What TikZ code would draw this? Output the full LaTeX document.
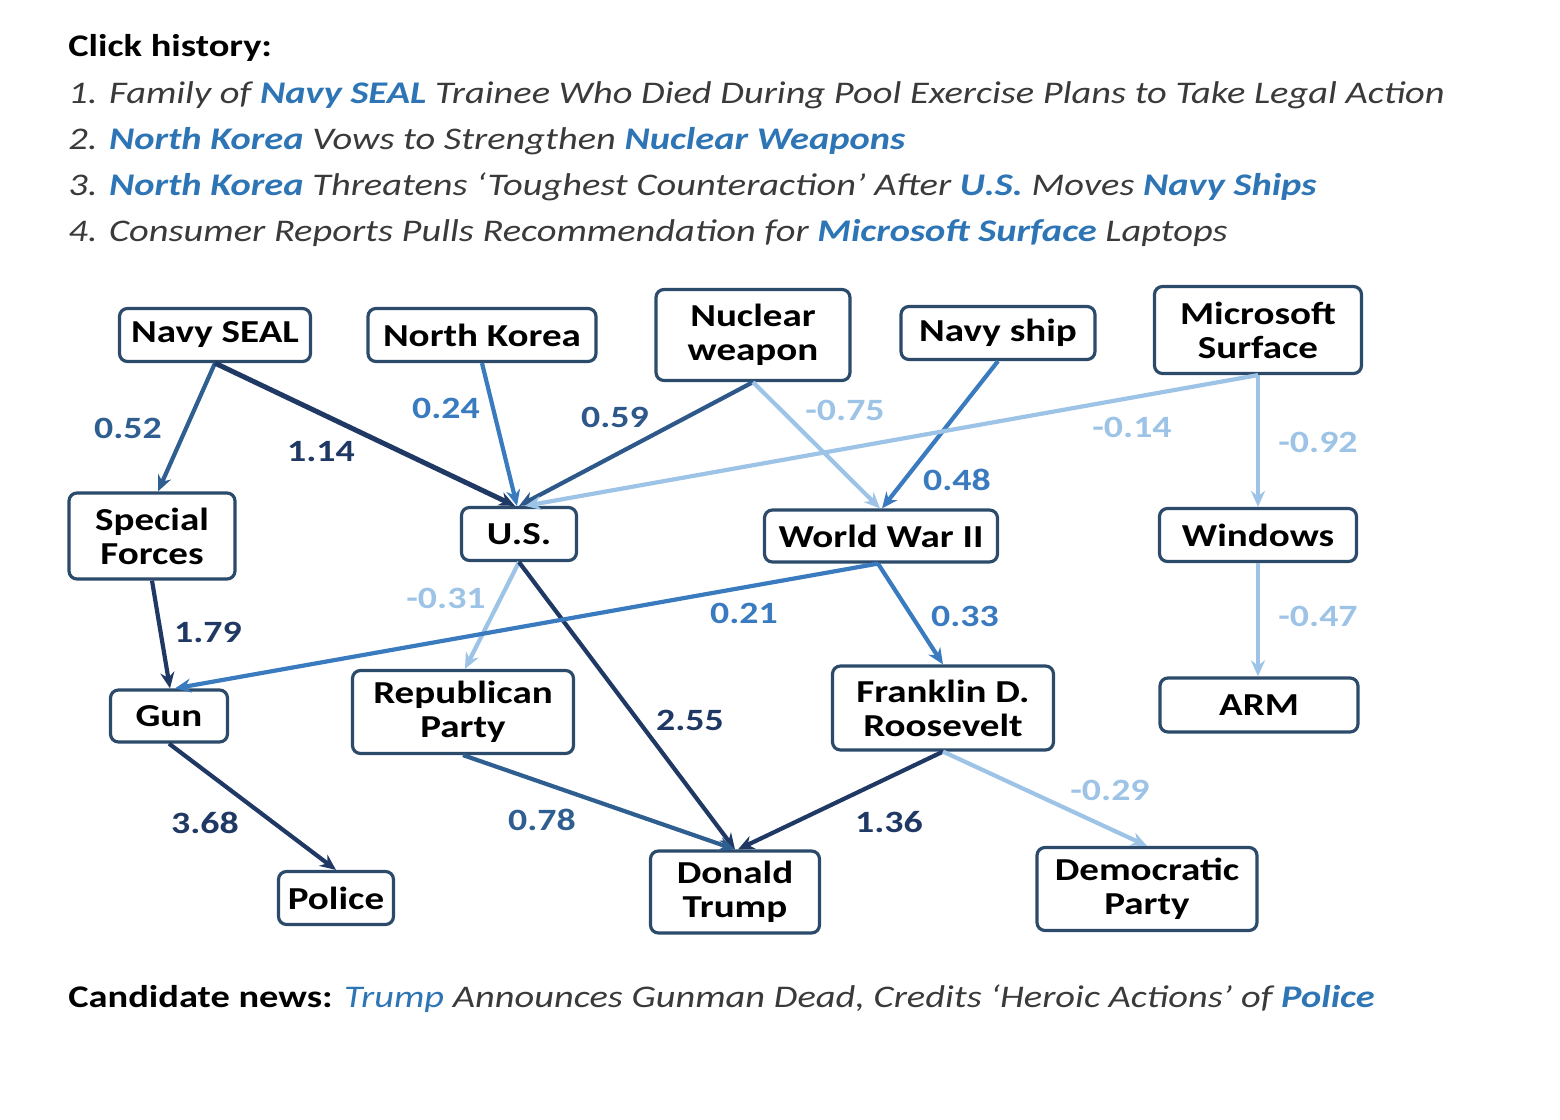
\documentclass[tikz,border=0pt]{standalone}
\usepackage{fontspec}
\setmainfont{Carlito}[FakeStretch=1.22]
\usetikzlibrary{arrows.meta}
\definecolor{navy}{HTML}{1F3864}
\definecolor{midb}{HTML}{2F5E90}
\definecolor{blueb}{HTML}{3A7BC0}
\definecolor{lightb}{HTML}{9DC3E6}
\definecolor{nodeb}{HTML}{2C4B6B}
\definecolor{hblue}{HTML}{2E75B6}
\definecolor{hgray}{HTML}{3A3A3A}
\tikzset{
  box/.style={draw=nodeb, line width=1.6pt, rounded corners=4pt, fill=white,
    font=\bfseries\fontsize{16}{17}\selectfont, align=center, inner sep=0pt, text=black},
  edge/.style={line width=2.1pt, -{Stealth[length=8pt,width=7pt]}},
  edgedark/.style={edge, draw=navy},
  edgemid/.style={edge, draw=midb},
  edgeblue/.style={edge, draw=blueb},
  edgelight/.style={edge, draw=lightb},
  lbl/.style={font=\bfseries\fontsize{15.5}{16}\selectfont, inner sep=0pt},
  hline/.style={anchor=base west, inner sep=0pt, font=\fontsize{15.75}{16}\selectfont},
}
\newcommand{\hb}[1]{\textcolor{hblue}{\bfseries\itshape #1}}
\begin{document}
\begin{tikzpicture}[x=0.5pt,y=-0.5pt]
\useasboundingbox (0,0) rectangle (1560,1120);
% header
\node[hline] (h0) at (68,56) {\bfseries Click history:};
\node[hline, text=hgray] (h1) at (68,103) {\itshape 1. Family of \hb{Navy SEAL} Trainee Who Died During Pool Exercise Plans to Take Legal Action};
\node[hline, text=hgray] (h2) at (68,149) {\itshape 2. \hb{North Korea} Vows to Strengthen \hb{Nuclear Weapons}};
\node[hline, text=hgray] (h3) at (68,195) {\itshape 3. \hb{North Korea} Threatens ‘Toughest Counteraction’ After \hb{U.S.} Moves \hb{Navy Ships}};
\node[hline, text=hgray] (h4) at (68,241) {\itshape 4. Consumer Reports Pulls Recommendation for \hb{Microsoft Surface} Laptops};
\node[hline] (cand) at (68,1007) {\textbf{Candidate news:} {\itshape\color{hblue}Trump} \textcolor{hgray}{\itshape Announces Gunman Dead, Credits ‘Heroic Actions’ of} \hb{Police}};
% nodes
\node[box, minimum width=95.5pt, minimum height=26.5pt] (seal) at (215,335) {Navy SEAL};
\node[box, minimum width=114pt, minimum height=26.5pt] (nk) at (482,335) {North Korea};
\node[box, minimum width=97pt, minimum height=45.5pt] (nw) at (753,335) {Nuclear\\weapon};
\node[box, minimum width=97pt, minimum height=26.5pt] (ship) at (998,333) {Navy ship};
\node[box, minimum width=103.5pt, minimum height=43.5pt] (ms) at (1258,330) {Microsoft\\Surface};
\node[box, minimum width=83pt, minimum height=43pt] (sf) at (152,536) {Special\\Forces};
\node[box, minimum width=57.5pt, minimum height=26.5pt] (us) at (519,534) {U.S.};
\node[box, minimum width=116.5pt, minimum height=26pt] (ww) at (881,536) {World War II};
\node[box, minimum width=98.5pt, minimum height=26.5pt] (win) at (1258,535) {Windows};
\node[box, minimum width=58.5pt, minimum height=26pt] (gun) at (169,716) {Gun};
\node[box, minimum width=110.5pt, minimum height=41.5pt] (rep) at (463,712) {Republican\\Party};
\node[box, minimum width=110.5pt, minimum height=42pt] (fdr) at (943,708) {Franklin D.\\Roosevelt};
\node[box, minimum width=99pt, minimum height=27pt] (arm) at (1259,705) {ARM};
\node[box, minimum width=57.5pt, minimum height=26.5pt] (pol) at (336,898) {Police};
\node[box, minimum width=84.5pt, minimum height=41pt] (dt) at (735,892) {Donald\\Trump};
\node[box, minimum width=110pt, minimum height=41.5pt] (dem) at (1147,889) {Democratic\\Party};
% edges
\draw[edgemid] (seal.south) -- ([xshift=3pt]sf.north);
\draw[edgedark, line width=2.5pt] (seal.south) -- ([xshift=-2pt]us.north);
\draw[edgeblue] (nk.south) -- ([xshift=-1pt]us.north);
\draw[edgemid, draw=midb!85!navy] (nw.south) -- ([xshift=0pt]us.north);
\draw[edgelight] (nw.south) -- ([xshift=-0.5pt]ww.north);
\draw[edgeblue] (ship.south) -- ([xshift=0.5pt]ww.north);
\draw[edgelight] (ms.south) -- ([xshift=3pt]us.north);
\draw[edgelight] (ms.south) -- (win.north);
\draw[edgedark] (sf.south) -- ([xshift=0.5pt]gun.north);
\draw[edgelight] (us.south) -- ([xshift=1pt]rep.north);
\draw[edgedark] (us.south) -- (dt.north);
\draw[edgeblue] ([xshift=-1.5pt]ww.south) -- ([xshift=3pt]gun.north);
\draw[edgeblue] ([xshift=-1.5pt]ww.south) -- (fdr.north);
\draw[edgelight] (win.south) -- ([xshift=-0.5pt]arm.north);
\draw[edgedark] (gun.south) -- (pol.north);
\draw[edgemid] (rep.south) -- (dt.north);
\draw[edgedark] (fdr.south) -- ([xshift=1.5pt]dt.north);
\draw[edgelight] (fdr.south) -- (dem.north);
% labels
\node[lbl, text=midb] (l1) at (128,428) {0.52};
\node[lbl, text=navy] (l2) at (321,452) {1.14};
\node[lbl, text=blueb] (l3) at (446,408) {0.24};
\node[lbl, text=midb!85!navy] (l4) at (615,417) {0.59};
\node[lbl, text=lightb] (l5) at (845,410) {-0.75};
\node[lbl, text=blueb] (l6) at (957,480) {0.48};
\node[lbl, text=lightb] (l7) at (1132,427) {-0.14};
\node[lbl, text=lightb] (l8) at (1318,442) {-0.92};
\node[lbl, text=navy] (l9) at (208,632) {1.79};
\node[lbl, text=lightb] (l10) at (446,598) {-0.31};
\node[lbl, text=navy] (l11) at (690,720) {2.55};
\node[lbl, text=blueb] (l12) at (744,613) {0.21};
\node[lbl, text=blueb] (l13) at (965,616) {0.33};
\node[lbl, text=lightb] (l14) at (1318,616) {-0.47};
\node[lbl, text=navy] (l15) at (205,823) {3.68};
\node[lbl, text=midb] (l16) at (542,820) {0.78};
\node[lbl, text=navy] (l17) at (889,822) {1.36};
\node[lbl, text=lightb] (l18) at (1110,790) {-0.29};
\end{tikzpicture}
\end{document}
